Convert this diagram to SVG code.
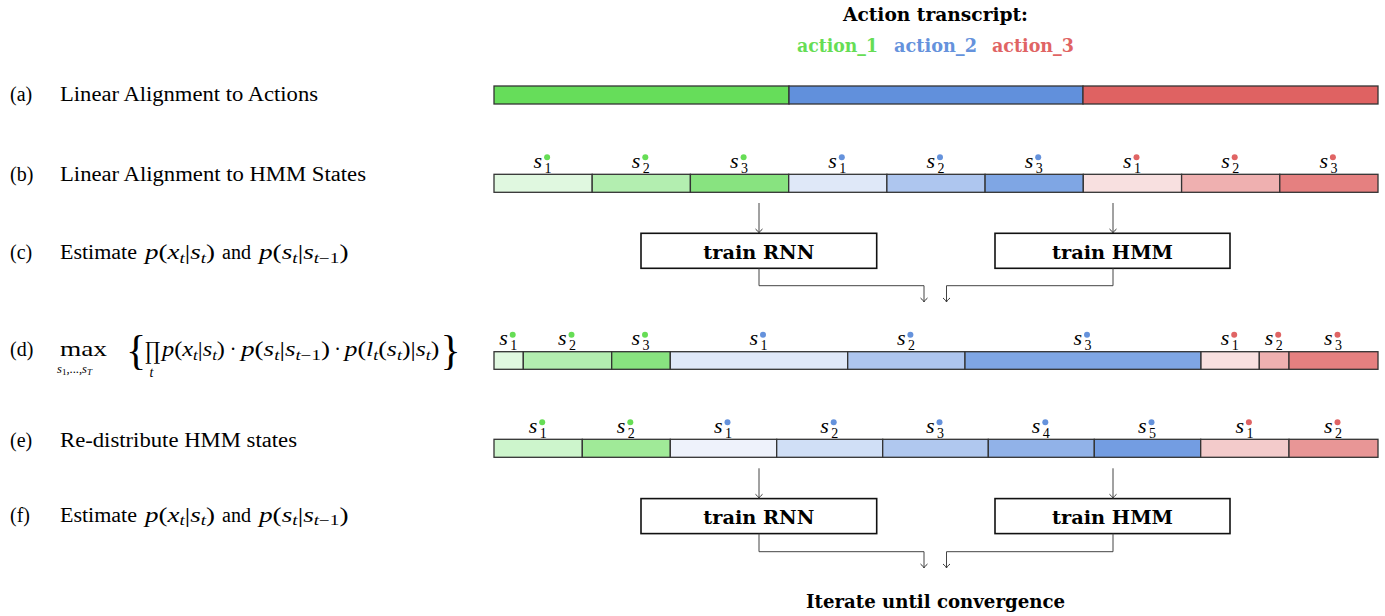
<svg xmlns="http://www.w3.org/2000/svg" width="1385" height="616" viewBox="0 0 1385 616">
<style>
.lbl{font-family:"Liberation Serif",serif;font-size:20px;fill:#000}
.it{font-style:italic}
.sub{font-size:14px}
.s{font-family:"Liberation Serif",serif;font-style:italic;font-size:22px;fill:#000}
.sn{font-style:normal;font-size:14px}
.bold{font-family:"DejaVu Serif",serif;font-weight:bold;font-size:18px;fill:#000}
.seg{stroke:#333;stroke-width:1.3}
.conn{fill:none;stroke:#444;stroke-width:1}
.box{fill:#fff;stroke:#111;stroke-width:1.6}
.dg{fill:#66dd55}.db{fill:#6592dc}.dr{fill:#e06464}
</style>
<defs>
<marker id="to" viewBox="-6 -5 8 10" markerWidth="8" markerHeight="10" refX="0" refY="0" orient="auto" markerUnits="userSpaceOnUse">
<path d="M-4,-3.5 C-2.5,-1.5 -0.6,-0.3 0,0 C-0.6,0.3 -2.5,1.5 -4,3.5" fill="none" stroke="#333" stroke-width="1"/>
</marker>
</defs>

<g id="title">
<text class="bold" x="935.5" y="21" text-anchor="middle" textLength="185" lengthAdjust="spacingAndGlyphs">Action transcript:</text>
<text class="bold" x="797" y="51.5" textLength="81" lengthAdjust="spacingAndGlyphs" style="fill:#66dd55">action_1</text>
<text class="bold" x="894" y="51.5" textLength="83" lengthAdjust="spacingAndGlyphs" style="fill:#6592dc">action_2</text>
<text class="bold" x="992" y="51.5" textLength="82" lengthAdjust="spacingAndGlyphs" style="fill:#e06464">action_3</text>
</g>

<g id="labels">
<text class="lbl" x="10" y="101">(a)</text>
<text class="lbl" x="60" y="101" textLength="258" lengthAdjust="spacingAndGlyphs">Linear Alignment to Actions</text>
<text class="lbl" x="10" y="181">(b)</text>
<text class="lbl" x="60" y="181" textLength="306" lengthAdjust="spacingAndGlyphs">Linear Alignment to HMM States</text>

<text class="lbl" x="10" y="259">(c)</text>
<text class="lbl" x="60" y="259" textLength="77" lengthAdjust="spacingAndGlyphs">Estimate</text>
<text class="lbl" x="145" y="259" textLength="70" lengthAdjust="spacingAndGlyphs"><tspan class="it">p</tspan>(<tspan class="it">x</tspan><tspan class="sub it" dy="3.5">t</tspan><tspan dy="-3.5">|</tspan><tspan class="it">s</tspan><tspan class="sub it" dy="3.5">t</tspan><tspan dy="-3.5">)</tspan></text>
<text class="lbl" x="222" y="259" textLength="29" lengthAdjust="spacingAndGlyphs">and</text>
<text class="lbl" x="259" y="259" textLength="89.5" lengthAdjust="spacingAndGlyphs"><tspan class="it">p</tspan>(<tspan class="it">s</tspan><tspan class="sub it" dy="3.5">t</tspan><tspan dy="-3.5">|</tspan><tspan class="it">s</tspan><tspan class="sub" dy="3.5"><tspan class="it">t</tspan>−1</tspan><tspan dy="-3.5">)</tspan></text>

<text class="lbl" x="10" y="356">(d)</text>
<text class="lbl" x="60" y="356" textLength="47" lengthAdjust="spacingAndGlyphs" style="font-size:21px">max</text>
<text class="lbl it" x="57" y="373" style="font-size:12.5px">s<tspan class="sn" style="font-size:9px" dy="2">1</tspan><tspan dy="-2" style="font-style:normal">,...,</tspan>s<tspan style="font-size:9px" dy="2">T</tspan></text>
<text class="lbl" x="126" y="364" style="font-size:42px">{</text>
<text x="145" y="358.5" textLength="15" lengthAdjust="spacingAndGlyphs" style="font-family:'DejaVu Serif',serif;font-size:24px;fill:#000">∏</text>
<text class="lbl it" x="149.5" y="377" style="font-size:14px">t</text>
<text class="lbl" x="162" y="356" textLength="63" lengthAdjust="spacingAndGlyphs"><tspan class="it">p</tspan>(<tspan class="it">x</tspan><tspan class="sub it" dy="3.5">t</tspan><tspan dy="-3.5">|</tspan><tspan class="it">s</tspan><tspan class="sub it" dy="3.5">t</tspan><tspan dy="-3.5">)</tspan></text>
<text class="lbl" x="233" y="356" text-anchor="middle">·</text>
<text class="lbl" x="241" y="356" textLength="89" lengthAdjust="spacingAndGlyphs"><tspan class="it">p</tspan>(<tspan class="it">s</tspan><tspan class="sub it" dy="3.5">t</tspan><tspan dy="-3.5">|</tspan><tspan class="it">s</tspan><tspan class="sub" dy="3.5"><tspan class="it">t</tspan>−1</tspan><tspan dy="-3.5">)</tspan></text>
<text class="lbl" x="337.5" y="356" text-anchor="middle">·</text>
<text class="lbl" x="344.5" y="356" textLength="95" lengthAdjust="spacingAndGlyphs"><tspan class="it">p</tspan>(<tspan class="it">l</tspan><tspan class="sub it" dy="3.5">t</tspan><tspan dy="-3.5">(</tspan><tspan class="it">s</tspan><tspan class="sub it" dy="3.5">t</tspan><tspan dy="-3.5">)|</tspan><tspan class="it">s</tspan><tspan class="sub it" dy="3.5">t</tspan><tspan dy="-3.5">)</tspan></text>
<text class="lbl" x="440.5" y="364" style="font-size:42px">}</text>

<text class="lbl" x="10" y="446.5">(e)</text>
<text class="lbl" x="60" y="446.5" textLength="237" lengthAdjust="spacingAndGlyphs">Re-distribute HMM states</text>

<text class="lbl" x="10" y="521.5">(f)</text>
<text class="lbl" x="60" y="521.5" textLength="77" lengthAdjust="spacingAndGlyphs">Estimate</text>
<text class="lbl" x="145" y="521.5" textLength="70" lengthAdjust="spacingAndGlyphs"><tspan class="it">p</tspan>(<tspan class="it">x</tspan><tspan class="sub it" dy="3.5">t</tspan><tspan dy="-3.5">|</tspan><tspan class="it">s</tspan><tspan class="sub it" dy="3.5">t</tspan><tspan dy="-3.5">)</tspan></text>
<text class="lbl" x="222" y="521.5" textLength="29" lengthAdjust="spacingAndGlyphs">and</text>
<text class="lbl" x="259" y="521.5" textLength="89.5" lengthAdjust="spacingAndGlyphs"><tspan class="it">p</tspan>(<tspan class="it">s</tspan><tspan class="sub it" dy="3.5">t</tspan><tspan dy="-3.5">|</tspan><tspan class="it">s</tspan><tspan class="sub" dy="3.5"><tspan class="it">t</tspan>−1</tspan><tspan dy="-3.5">)</tspan></text>
</g>

<g id="row-a">
<rect class="seg" x="494" y="86" width="295" height="18" fill="#66dd5a"/>
<rect class="seg" x="789" y="86" width="294" height="18" fill="#6190dc"/>
<rect class="seg" x="1083" y="86" width="295" height="18" fill="#df6262"/>
</g>

<g id="row-b">
<rect class="seg" x="494" y="174.3" width="98.2" height="18" fill="#e0f8e0"/>
<rect class="seg" x="592.2" y="174.3" width="98.2" height="18" fill="#b3eeb0"/>
<rect class="seg" x="690.4" y="174.3" width="98.3" height="18" fill="#88e380"/>
<rect class="seg" x="788.7" y="174.3" width="98.2" height="18" fill="#dfe8f8"/>
<rect class="seg" x="886.9" y="174.3" width="98.2" height="18" fill="#aec6ef"/>
<rect class="seg" x="985.1" y="174.3" width="98.2" height="18" fill="#7fa6e4"/>
<rect class="seg" x="1083.3" y="174.3" width="98.3" height="18" fill="#f8e0e0"/>
<rect class="seg" x="1181.6" y="174.3" width="98.2" height="18" fill="#efb0b0"/>
<rect class="seg" x="1279.8" y="174.3" width="98.2" height="18" fill="#e58080"/>
<text class="s" x="533.6" y="168">s<tspan class="sn" x="544.6" y="173">1</tspan></text><circle class="dg" cx="547.1" cy="157.3" r="3"/>
<text class="s" x="631.8" y="168">s<tspan class="sn" x="642.8" y="173">2</tspan></text><circle class="dg" cx="645.3" cy="157.3" r="3"/>
<text class="s" x="730.1" y="168">s<tspan class="sn" x="741.1" y="173">3</tspan></text><circle class="dg" cx="743.6" cy="157.3" r="3"/>
<text class="s" x="828.3" y="168">s<tspan class="sn" x="839.3" y="173">1</tspan></text><circle class="db" cx="841.8" cy="157.3" r="3"/>
<text class="s" x="926.5" y="168">s<tspan class="sn" x="937.5" y="173">2</tspan></text><circle class="db" cx="940" cy="157.3" r="3"/>
<text class="s" x="1024.7" y="168">s<tspan class="sn" x="1035.7" y="173">3</tspan></text><circle class="db" cx="1038.2" cy="157.3" r="3"/>
<text class="s" x="1123" y="168">s<tspan class="sn" x="1134" y="173">1</tspan></text><circle class="dr" cx="1136.5" cy="157.3" r="3"/>
<text class="s" x="1221.2" y="168">s<tspan class="sn" x="1232.2" y="173">2</tspan></text><circle class="dr" cx="1234.7" cy="157.3" r="3"/>
<text class="s" x="1319.4" y="168">s<tspan class="sn" x="1330.4" y="173">3</tspan></text><circle class="dr" cx="1332.9" cy="157.3" r="3"/>
</g>

<g id="train-rnn-1">
<rect class="box" x="641" y="233.3" width="235.7" height="35"/>
<text class="bold" x="758.8" y="259" text-anchor="middle" textLength="111" lengthAdjust="spacingAndGlyphs" style="font-size:19px">train RNN</text>
</g>
<g id="train-hmm-1">
<rect class="box" x="995" y="233.3" width="235" height="35"/>
<text class="bold" x="1112.5" y="259" text-anchor="middle" textLength="121" lengthAdjust="spacingAndGlyphs" style="font-size:19px">train HMM</text>
</g>

<g id="row-d">
<rect class="seg" x="494" y="351.7" width="29.3" height="17.6" fill="#e0f8e0"/>
<rect class="seg" x="523.3" y="351.7" width="88.4" height="17.6" fill="#b3eeb0"/>
<rect class="seg" x="611.7" y="351.7" width="58.6" height="17.6" fill="#88e380"/>
<rect class="seg" x="670.3" y="351.7" width="177.4" height="17.6" fill="#dfe8f8"/>
<rect class="seg" x="847.7" y="351.7" width="117.3" height="17.6" fill="#aec6ef"/>
<rect class="seg" x="965" y="351.7" width="236" height="17.6" fill="#7fa6e4"/>
<rect class="seg" x="1201" y="351.7" width="58.3" height="17.6" fill="#f8e0e0"/>
<rect class="seg" x="1259.3" y="351.7" width="29.7" height="17.6" fill="#efb0b0"/>
<rect class="seg" x="1289" y="351.7" width="89" height="17.6" fill="#e58080"/>
<text class="s" x="499.2" y="345.4">s<tspan class="sn" x="510.2" y="350.4">1</tspan></text><circle class="dg" cx="512.7" cy="334.7" r="3"/>
<text class="s" x="558" y="345.4">s<tspan class="sn" x="569" y="350.4">2</tspan></text><circle class="dg" cx="571.5" cy="334.7" r="3"/>
<text class="s" x="631.5" y="345.4">s<tspan class="sn" x="642.5" y="350.4">3</tspan></text><circle class="dg" cx="645" cy="334.7" r="3"/>
<text class="s" x="749.5" y="345.4">s<tspan class="sn" x="760.5" y="350.4">1</tspan></text><circle class="db" cx="763" cy="334.7" r="3"/>
<text class="s" x="896.9" y="345.4">s<tspan class="sn" x="907.9" y="350.4">2</tspan></text><circle class="db" cx="910.4" cy="334.7" r="3"/>
<text class="s" x="1073.5" y="345.4">s<tspan class="sn" x="1084.5" y="350.4">3</tspan></text><circle class="db" cx="1087" cy="334.7" r="3"/>
<text class="s" x="1220.7" y="345.4">s<tspan class="sn" x="1231.7" y="350.4">1</tspan></text><circle class="dr" cx="1234.2" cy="334.7" r="3"/>
<text class="s" x="1264.7" y="345.4">s<tspan class="sn" x="1275.7" y="350.4">2</tspan></text><circle class="dr" cx="1278.2" cy="334.7" r="3"/>
<text class="s" x="1324" y="345.4">s<tspan class="sn" x="1335" y="350.4">3</tspan></text><circle class="dr" cx="1337.5" cy="334.7" r="3"/>
</g>

<g id="row-e">
<rect class="seg" x="494" y="439.3" width="88.3" height="18" fill="#cdf5cc"/>
<rect class="seg" x="582.3" y="439.3" width="88" height="18" fill="#a0ea98"/>
<rect class="seg" x="670.3" y="439.3" width="106.4" height="18" fill="#eef2fb"/>
<rect class="seg" x="776.7" y="439.3" width="106" height="18" fill="#d0dff6"/>
<rect class="seg" x="882.7" y="439.3" width="105.6" height="18" fill="#b0c8ef"/>
<rect class="seg" x="988.3" y="439.3" width="106" height="18" fill="#91b2e8"/>
<rect class="seg" x="1094.3" y="439.3" width="106.4" height="18" fill="#739de2"/>
<rect class="seg" x="1200.7" y="439.3" width="88.3" height="18" fill="#f3cbcb"/>
<rect class="seg" x="1289" y="439.3" width="89" height="18" fill="#e89696"/>
<text class="s" x="528.7" y="433">s<tspan class="sn" x="539.7" y="438">1</tspan></text><circle class="dg" cx="542.2" cy="422.3" r="3"/>
<text class="s" x="616.8" y="433">s<tspan class="sn" x="627.8" y="438">2</tspan></text><circle class="dg" cx="630.3" cy="422.3" r="3"/>
<text class="s" x="714" y="433">s<tspan class="sn" x="725" y="438">1</tspan></text><circle class="db" cx="727.5" cy="422.3" r="3"/>
<text class="s" x="820.2" y="433">s<tspan class="sn" x="831.2" y="438">2</tspan></text><circle class="db" cx="833.7" cy="422.3" r="3"/>
<text class="s" x="926" y="433">s<tspan class="sn" x="937" y="438">3</tspan></text><circle class="db" cx="939.5" cy="422.3" r="3"/>
<text class="s" x="1031.8" y="433">s<tspan class="sn" x="1042.8" y="438">4</tspan></text><circle class="db" cx="1045.3" cy="422.3" r="3"/>
<text class="s" x="1138" y="433">s<tspan class="sn" x="1149" y="438">5</tspan></text><circle class="db" cx="1151.5" cy="422.3" r="3"/>
<text class="s" x="1235.4" y="433">s<tspan class="sn" x="1246.4" y="438">1</tspan></text><circle class="dr" cx="1248.9" cy="422.3" r="3"/>
<text class="s" x="1324" y="433">s<tspan class="sn" x="1335" y="438">2</tspan></text><circle class="dr" cx="1337.5" cy="422.3" r="3"/>
</g>

<g id="train-rnn-2">
<rect class="box" x="641" y="498.6" width="235.7" height="35"/>
<text class="bold" x="758.8" y="524.3" text-anchor="middle" textLength="111" lengthAdjust="spacingAndGlyphs" style="font-size:19px">train RNN</text>
</g>
<g id="train-hmm-2">
<rect class="box" x="995" y="498.6" width="235" height="35"/>
<text class="bold" x="1112.5" y="524.3" text-anchor="middle" textLength="121" lengthAdjust="spacingAndGlyphs" style="font-size:19px">train HMM</text>
</g>

<g id="iterate">
<text class="bold" x="935.5" y="608" text-anchor="middle" textLength="259" lengthAdjust="spacingAndGlyphs">Iterate until convergence</text>
</g>

<g id="connectors">
<path class="conn" d="M759,203 V233" marker-end="url(#to)"/>
<path class="conn" d="M1113,203 V233" marker-end="url(#to)"/>
<path class="conn" d="M759,268.3 V285.7 H924 V302" marker-end="url(#to)"/>
<path class="conn" d="M1113,268.3 V285.7 H946.5 V302" marker-end="url(#to)"/>
<path class="conn" d="M759,468.3 V498.3" marker-end="url(#to)"/>
<path class="conn" d="M1113,468.3 V498.3" marker-end="url(#to)"/>
<path class="conn" d="M759,533.6 V551.7 H924 V568" marker-end="url(#to)"/>
<path class="conn" d="M1113,533.6 V551.7 H946.5 V568" marker-end="url(#to)"/>
</g>
</svg>
